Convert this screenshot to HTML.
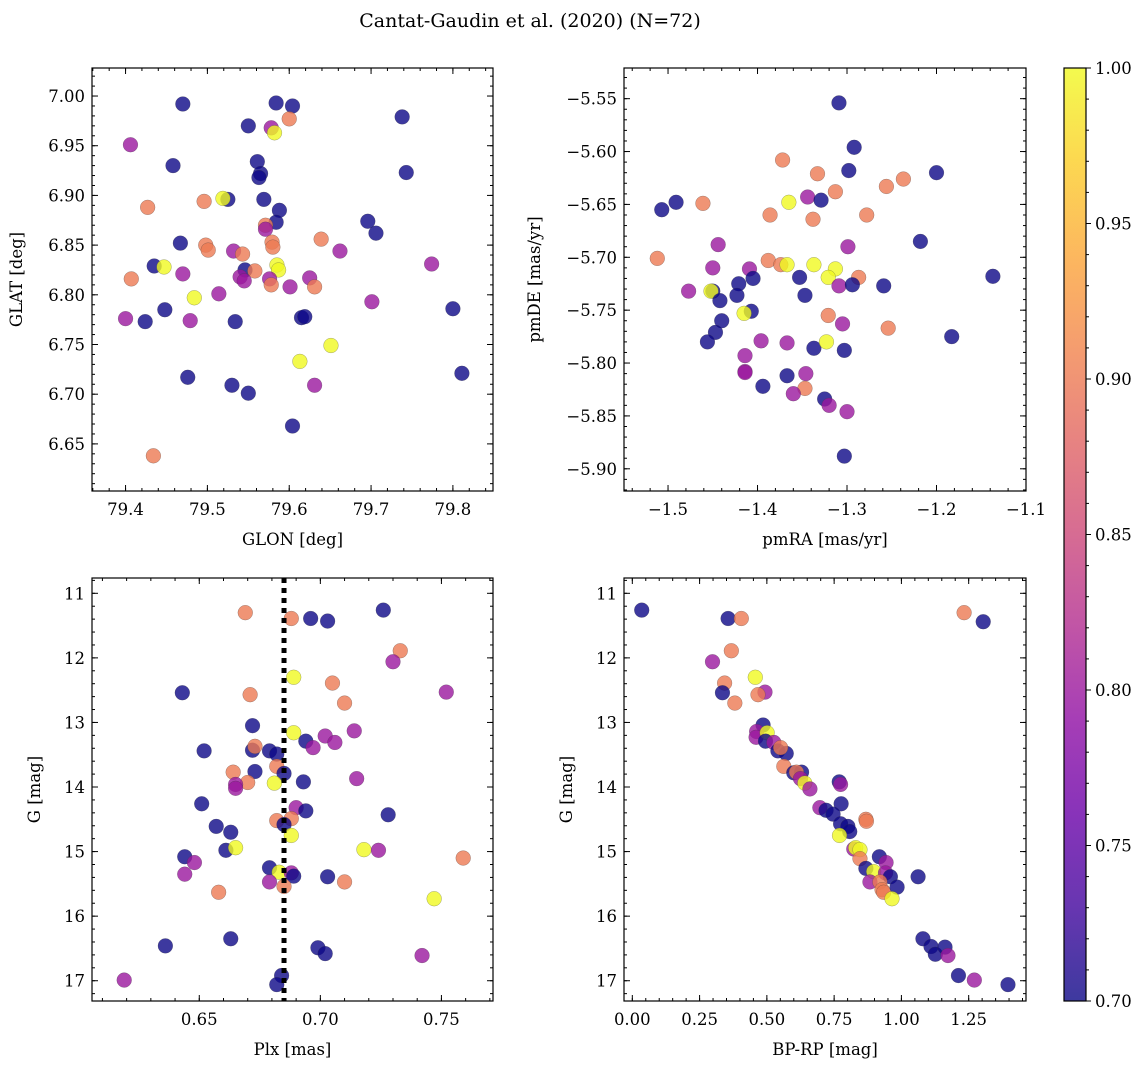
<!DOCTYPE html>
<html><head><meta charset="utf-8"><style>
html,body{margin:0;padding:0;background:#fff}
svg{display:block;font-family:"DejaVu Serif","Liberation Serif",serif}
</style></head><body>
<svg id="fig" width="1148" height="1068" viewBox="0 0 1148 1068">
<text x="530" y="27" text-anchor="middle" font-size="19">Cantat-Gaudin et al. (2020) (N=72)</text>
</svg>
<script>
// ---- Panel 1: GLON vs GLAT ----
const glon=[79.470,79.584,79.604,79.738,79.550,79.578,79.582,79.600,79.406,79.458,79.561,79.565,79.563,79.743,79.496,79.427,79.525,79.519,79.569,79.588,79.584,79.571,79.571,79.696,79.706,79.467,79.498,79.501,79.579,79.580,79.639,79.532,79.543,79.662,79.435,79.447,79.585,79.587,79.774,79.407,79.470,79.546,79.558,79.540,79.545,79.576,79.578,79.601,79.625,79.631,79.484,79.514,79.701,79.800,79.448,79.400,79.424,79.479,79.534,79.615,79.619,79.651,79.613,79.811,79.476,79.530,79.550,79.631,79.604,79.434];
const glat=[6.992,6.993,6.990,6.979,6.970,6.968,6.963,6.977,6.951,6.930,6.934,6.922,6.918,6.923,6.894,6.888,6.896,6.897,6.896,6.885,6.873,6.870,6.866,6.874,6.862,6.852,6.850,6.845,6.853,6.848,6.856,6.844,6.841,6.844,6.829,6.828,6.830,6.825,6.831,6.816,6.821,6.825,6.824,6.818,6.814,6.816,6.810,6.808,6.817,6.808,6.797,6.801,6.793,6.786,6.785,6.776,6.773,6.774,6.773,6.777,6.778,6.749,6.733,6.721,6.717,6.709,6.701,6.709,6.668,6.638];
const probTL=[0.7,0.7,0.7,0.7,0.7,0.8,1.0,0.9,0.8,0.7,0.7,0.7,0.7,0.7,0.9,0.9,0.7,1.0,0.7,0.7,0.7,0.9,0.8,0.7,0.7,0.7,0.9,0.9,0.9,0.9,0.9,0.8,0.9,0.8,0.7,1.0,1.0,1.0,0.8,0.9,0.8,0.7,0.9,0.8,0.8,0.8,0.9,0.8,0.8,0.9,1.0,0.8,0.8,0.7,0.7,0.8,0.7,0.8,0.7,0.7,0.7,1.0,1.0,0.7,0.7,0.7,0.7,0.8,0.7,0.9];
const ticksGLON=["79.4","79.5","79.6","79.7","79.8"];
const ticksGLAT=["6.65","6.70","6.75","6.80","6.85","6.90","6.95","7.00"];
// ---- Panel 2: pmRA vs pmDE ----
const pmra=[-1.309,-1.292,-1.372,-1.333,-1.298,-1.200,-1.256,-1.237,-1.313,-1.344,-1.329,-1.365,-1.507,-1.491,-1.461,-1.386,-1.338,-1.278,-1.218,-1.444,-1.299,-1.512,-1.450,-1.409,-1.388,-1.374,-1.367,-1.337,-1.313,-1.321,-1.353,-1.405,-1.421,-1.287,-1.309,-1.294,-1.259,-1.137,-1.477,-1.450,-1.452,-1.442,-1.423,-1.347,-1.407,-1.415,-1.440,-1.321,-1.305,-1.254,-1.183,-1.447,-1.456,-1.396,-1.367,-1.337,-1.323,-1.303,-1.414,-1.414,-1.414,-1.367,-1.346,-1.394,-1.347,-1.360,-1.325,-1.320,-1.300,-1.303];
const pmde=[-5.554,-5.596,-5.608,-5.621,-5.618,-5.620,-5.633,-5.626,-5.638,-5.643,-5.646,-5.648,-5.655,-5.648,-5.649,-5.660,-5.664,-5.660,-5.685,-5.688,-5.690,-5.701,-5.710,-5.711,-5.703,-5.707,-5.707,-5.707,-5.711,-5.719,-5.719,-5.720,-5.725,-5.719,-5.727,-5.726,-5.727,-5.718,-5.732,-5.732,-5.732,-5.741,-5.736,-5.736,-5.751,-5.753,-5.760,-5.755,-5.763,-5.767,-5.775,-5.771,-5.780,-5.779,-5.781,-5.786,-5.780,-5.788,-5.793,-5.808,-5.809,-5.812,-5.810,-5.822,-5.824,-5.829,-5.834,-5.840,-5.846,-5.888];
const probTR=[0.7,0.7,0.9,0.9,0.7,0.7,0.9,0.9,0.9,0.8,0.7,1.0,0.7,0.7,0.9,0.9,0.9,0.9,0.7,0.8,0.8,0.9,0.8,0.8,0.9,0.9,1.0,1.0,1.0,1.0,0.7,0.7,0.7,0.9,0.8,0.7,0.7,0.7,0.8,0.7,1.0,0.7,0.7,0.7,0.7,1.0,0.7,0.9,0.8,0.9,0.7,0.7,0.7,0.8,0.8,0.7,1.0,0.7,0.8,0.8,0.8,0.7,0.8,0.7,0.9,0.8,0.7,0.8,0.8,0.7];
const ticksPMRA=["-1.5","-1.4","-1.3","-1.2","-1.1"];
const ticksPMDE=["-5.55","-5.60","-5.65","-5.70","-5.75","-5.80","-5.85","-5.90"];
// ---- Panel 3: Plx vs G ----
const plx=[0.669,0.688,0.696,0.703,0.726,0.733,0.730,0.689,0.705,0.643,0.671,0.752,0.710,0.672,0.689,0.702,0.706,0.714,0.694,0.697,0.652,0.672,0.673,0.679,0.682,0.682,0.673,0.685,0.664,0.670,0.665,0.665,0.681,0.693,0.715,0.651,0.690,0.694,0.728,0.688,0.682,0.685,0.657,0.663,0.688,0.661,0.665,0.718,0.724,0.759,0.644,0.648,0.644,0.679,0.683,0.688,0.689,0.703,0.710,0.679,0.685,0.658,0.747,0.663,0.636,0.699,0.702,0.742,0.619,0.684,0.682];
const gBL=[11.30,11.39,11.39,11.43,11.26,11.89,12.06,12.30,12.39,12.54,12.57,12.53,12.70,13.05,13.16,13.21,13.31,13.13,13.29,13.39,13.44,13.43,13.37,13.44,13.49,13.68,13.76,13.79,13.77,13.93,13.96,14.02,13.94,13.92,13.87,14.26,14.32,14.37,14.43,14.49,14.52,14.58,14.61,14.70,14.75,14.98,14.94,14.97,14.98,15.10,15.08,15.17,15.35,15.25,15.32,15.33,15.38,15.39,15.47,15.47,15.54,15.63,15.73,16.35,16.46,16.49,16.58,16.61,16.99,16.92,17.06];
const probBL=[0.9,0.9,0.7,0.7,0.7,0.9,0.8,1.0,0.9,0.7,0.9,0.8,0.9,0.7,1.0,0.8,0.8,0.8,0.7,0.8,0.7,0.7,0.9,0.7,0.7,0.9,0.7,0.7,0.9,0.9,0.8,0.8,1.0,0.7,0.8,0.7,0.8,0.7,0.7,0.9,0.9,0.7,0.7,0.7,1.0,0.7,1.0,1.0,0.8,0.9,0.7,0.8,0.8,0.7,1.0,0.8,0.7,0.7,0.9,0.8,0.9,0.9,1.0,0.7,0.7,0.7,0.7,0.8,0.8,0.7,0.7];
const plxMean=[0.685];
const ticksPLX=["0.65","0.70","0.75"];
const ticksG=["11","12","13","14","15","16","17"];
// ---- Panel 4: BP-RP vs G ----
const bprp=[0.035,0.356,0.405,1.233,1.304,0.368,0.298,0.457,0.343,0.335,0.493,0.467,0.381,0.486,0.462,0.460,0.501,0.495,0.526,0.541,0.572,0.551,0.563,0.600,0.629,0.610,0.625,0.641,0.660,0.769,0.774,0.776,0.697,0.720,0.746,0.774,0.801,0.808,0.868,0.870,0.770,0.823,0.830,0.846,0.846,0.918,0.943,0.868,0.897,0.941,0.959,0.883,0.920,0.928,0.934,0.984,0.965,1.062,1.080,1.110,1.126,1.162,1.173,1.212,1.271,1.396];
const gBR=[11.26,11.39,11.39,11.30,11.44,11.89,12.06,12.30,12.39,12.54,12.53,12.57,12.70,13.04,13.14,13.23,13.16,13.29,13.31,13.44,13.48,13.39,13.68,13.78,13.77,13.77,13.87,13.94,14.03,13.92,13.96,14.26,14.32,14.36,14.42,14.57,14.61,14.69,14.50,14.53,14.75,14.96,14.94,14.97,15.11,15.08,15.17,15.26,15.31,15.33,15.39,15.47,15.47,15.59,15.63,15.55,15.73,15.39,16.35,16.47,16.59,16.48,16.61,16.92,16.99,17.06];
const probBR=[0.7,0.7,0.9,0.9,0.7,0.9,0.8,1.0,0.9,0.7,0.8,0.9,0.9,0.7,0.8,0.8,1.0,0.7,0.8,0.7,0.7,0.9,0.9,0.7,0.7,0.9,0.8,1.0,0.8,0.7,0.8,0.7,0.8,0.7,0.7,0.7,0.7,0.7,0.9,0.9,1.0,0.8,1.0,1.0,0.9,0.7,0.8,0.7,1.0,0.8,0.7,0.8,0.9,0.9,0.9,0.7,1.0,0.7,0.7,0.7,0.7,0.7,0.8,0.7,0.8,0.7];
const ticksBPRP=["0.00","0.25","0.50","0.75","1.00","1.25"];
const ticksCbar=["0.70","0.75","0.80","0.85","0.90","0.95","1.00"];

const NS="http://www.w3.org/2000/svg";
const svg=document.getElementById('fig');
const FS=16.5;
function mk(tag,attrs,parent){const e=document.createElementNS(NS,tag);for(const k in attrs)e.setAttribute(k,attrs[k]);(parent||svg).appendChild(e);return e;}
const stops=[[0,'#0d0887'],[0.1,'#41049d'],[0.2,'#6a00a8'],[0.3,'#8f0da4'],[0.4,'#b12a90'],[0.5,'#cc4778'],[0.6,'#e16462'],[0.7,'#f2844b'],[0.8,'#fca636'],[0.9,'#fcce25'],[1,'#f0f921']];
function hx(h){return [1,3,5].map(i=>parseInt(h.substr(i,2),16));}
function plasma(t){t=Math.max(0,Math.min(1,t));for(let i=1;i<stops.length;i++){if(t<=stops[i][0]){const a=stops[i-1],b=stops[i];const f=(t-a[0])/(b[0]-a[0]);const ca=hx(a[1]),cb=hx(b[1]);return 'rgb('+ca.map((c,j)=>Math.round(c+(cb[j]-c)*f)).join(',')+')';}}return stops[10][1];}
const VMIN=0.7,VMAX=1.0;
function fmt(s){return s.replace('-','\u2212');}

function panel(c){
  const g=mk('g',{});
  
  
  const sx=v=>c.x0+(v-c.xd[0])/(c.xd[1]-c.xd[0])*(c.x1-c.x0);
  const sy=v=>c.y0+(v-c.yd[0])/(c.yd[1]-c.yd[0])*(c.y1-c.y0);
  const tg=mk('g',{stroke:'#000','stroke-width':1},g);
  
  
  const xlo=Math.min(c.xd[0],c.xd[1]),xhi=Math.max(c.xd[0],c.xd[1]);
  const ylo=Math.min(c.yd[0],c.yd[1]),yhi=Math.max(c.yd[0],c.yd[1]);
  for(let k=Math.ceil(xlo/c.xminor-1e-6);k*c.xminor<=xhi+1e-9;k++){const X=sx(k*c.xminor);mk('line',{x1:X,x2:X,y1:c.y1,y2:c.y1-3},tg);mk('line',{x1:X,x2:X,y1:c.y0,y2:c.y0+3},tg);}
  for(let k=Math.ceil(ylo/c.yminor-1e-6);k*c.yminor<=yhi+1e-9;k++){const Y=sy(k*c.yminor);mk('line',{x1:c.x0,x2:c.x0+3,y1:Y,y2:Y},tg);mk('line',{x1:c.x1,x2:c.x1-3,y1:Y,y2:Y},tg);}
  c.xt.forEach(s=>{const X=sx(parseFloat(s));mk('line',{x1:X,x2:X,y1:c.y1,y2:c.y1-6},tg);mk('line',{x1:X,x2:X,y1:c.y0,y2:c.y0+6},tg);
    const t=mk('text',{x:X,y:c.y1+24,'text-anchor':'middle','font-size':FS},g);t.textContent=fmt(s);
    
    });
  c.yt.forEach(s=>{const Y=sy(parseFloat(s));mk('line',{x1:c.x0,x2:c.x0+6,y1:Y,y2:Y},tg);mk('line',{x1:c.x1,x2:c.x1-6,y1:Y,y2:Y},tg);
    const t=mk('text',{x:c.x0-7,y:Y+6,'text-anchor':'end','font-size':FS},g);t.textContent=fmt(s);
    
    });
  const pg=mk('g',{},g);
  
  
  c.xs.forEach((v,i)=>{const p=mk('circle',{cx:sx(v),cy:sy(c.ys[i]),r:7.4,fill:plasma((c.ps[i]-VMIN)/(VMAX-VMIN)),'fill-opacity':0.8,stroke:'rgba(60,60,60,0.45)','stroke-width':0.5},pg);
    
    });
  if(c.vline!==undefined){const X=sx(c.vline);const l=mk('line',{x1:X,x2:X,y1:c.y0,y2:c.y1,stroke:'#000','stroke-width':5,'stroke-dasharray':'5,5'},g);
    
    }
  const f=mk('rect',{x:c.x0,y:c.y0,width:c.x1-c.x0,height:c.y1-c.y0,fill:'none',stroke:'#000','stroke-width':1.2},g);
  
  
  const xl=mk('text',{x:(c.x0+c.x1)/2,y:c.y1+54,'text-anchor':'middle','font-size':FS},g);xl.textContent=c.xlabel;
  
  
  const yl=mk('text',{x:c.ylx,y:(c.y0+c.y1)/2,'text-anchor':'middle','font-size':FS,transform:'rotate(-90 '+c.ylx+' '+(c.y0+c.y1)/2+')'},g);yl.textContent=c.ylabel;
  
  
}
panel({name:'sky-position-panel',x0:92,x1:493,y0:68,y1:491,xd:[79.359,79.849],yd:[7.0282,6.6026],xminor:0.02,yminor:0.01,xt:ticksGLON,yt:ticksGLAT,xs:glon,ys:glat,ps:probTL,xlabel:'GLON [deg]',ylabel:'GLAT [deg]',ylx:22});
panel({name:'proper-motion-panel',x0:624,x1:1026,y0:68,y1:491,xd:[-1.5492,-1.1],yd:[-5.521,-5.921],xminor:0.02,yminor:0.01,xt:ticksPMRA,yt:ticksPMDE,xs:pmra,ys:pmde,ps:probTR,xlabel:'pmRA [mas/yr]',ylabel:'pmDE [mas/yr]',ylx:540});
panel({name:'parallax-magnitude-panel',x0:92,x1:493,y0:578,y1:1001,xd:[0.6057,0.7713],yd:[10.763,17.314],xminor:0.01,yminor:0.2,xt:ticksPLX,yt:ticksG,xs:plx,ys:gBL,ps:probBL,xlabel:'Plx [mas]',ylabel:'G [mag]',ylx:40,vline:plxMean[0]});
panel({name:'color-magnitude-panel',x0:624,x1:1026,y0:578,y1:1001,xd:[-0.0309,1.463],yd:[10.763,17.314],xminor:0.05,yminor:0.2,xt:ticksBPRP,yt:ticksG,xs:bprp,ys:gBR,ps:probBR,xlabel:'BP-RP [mag]',ylabel:'G [mag]',ylx:572});

const cb=mk('g',{});


const defs=mk('defs',{});
const lg=mk('linearGradient',{id:'pl',x1:0,y1:1,x2:0,y2:0},defs);
stops.forEach(s=>mk('stop',{offset:s[0],'stop-color':s[1]},lg));
const cx0=1064,cx1=1086,cy0=68,cy1=1001;
mk('rect',{x:cx0,y:cy0,width:cx1-cx0,height:cy1-cy0,fill:'url(#pl)','fill-opacity':0.8},cb);
ticksCbar.forEach(s=>{const Y=cy1-(parseFloat(s)-VMIN)/(VMAX-VMIN)*(cy1-cy0);
  mk('line',{x1:cx1,x2:cx1+5,y1:Y,y2:Y,stroke:'#000','stroke-width':1},cb);
  const t=mk('text',{x:cx1+9,y:Y+6,'font-size':FS},cb);t.textContent=s;
  
  });
for(let k=0;k<=30;k++){if(k%5===0)continue;const Y=cy1-k/30*(cy1-cy0);mk('line',{x1:cx1,x2:cx1+3,y1:Y,y2:Y,stroke:'#000','stroke-width':1},cb);}
mk('rect',{x:cx0,y:cy0,width:cx1-cx0,height:cy1-cy0,fill:'none',stroke:'#000','stroke-width':1.2},cb);
</script>
</body></html>
